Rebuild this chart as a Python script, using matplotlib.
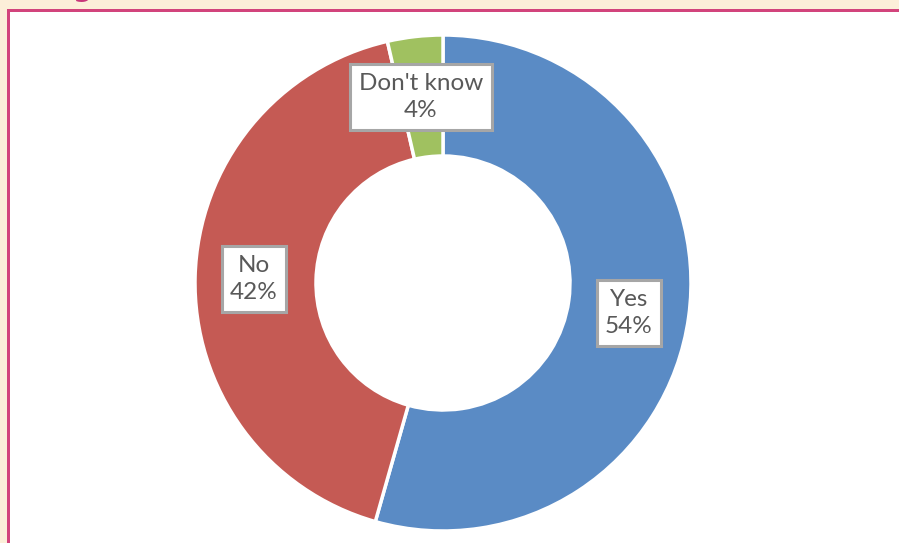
import matplotlib
matplotlib.use("Agg")
import matplotlib.pyplot as plt
from matplotlib.patches import Rectangle

categories = ["Yes", "No", "Don't know"]
values = [54.4, 42.0, 3.6]
pct_labels = ["54%", "42%", "4%"]
colors = ["#5A8BC5", "#C55A54", "#A0C160"]

W, H = 899, 543
fig = plt.figure(figsize=(W / 100, H / 100), dpi=100)
fig.patch.set_facecolor("white")

ax = fig.add_axes([0, 0, 1, 1])
ax.set_xlim(0, W)
ax.set_ylim(0, H)
ax.axis("off")

cx, cy = 443, H - 283
R = 248
width = 121

wedges, _ = ax.pie(values, colors=colors, startangle=90, counterclock=False,
                   center=(cx, cy), radius=R,
                   wedgeprops=dict(width=width, edgecolor="white", linewidth=2.5))
ax.set_xlim(0, W)
ax.set_ylim(0, H)
ax.set_aspect("auto")

label_pos = [(629, H - 313), (254, H - 279), (421, H - 97)]
for cat, pl, (lx, ly) in zip(categories, pct_labels, label_pos):
    ax.text(lx, ly, f"{cat}\n{pl}", ha="center", va="center",
            fontsize=17.5, color="#595959", family="Lato", linespacing=1.4,
            bbox=dict(boxstyle="square,pad=0.35", facecolor="white",
                      edgecolor="#A6A6A6", linewidth=2.2))

# page decoration: cream margins and pink frame lines
fig.patches.append(Rectangle((0, (H - 9) / H), 1, 9 / H, transform=fig.transFigure,
                             facecolor="#FCEFD9", edgecolor="none", zorder=5))
fig.patches.append(Rectangle((0, 0), 7 / W, 1, transform=fig.transFigure,
                             facecolor="#FCEFD9", edgecolor="none", zorder=5))
fig.patches.append(Rectangle((7 / W, (H - 12) / H), 1, 3 / H, transform=fig.transFigure,
                             facecolor="#D2447C", edgecolor="none", zorder=6))
fig.patches.append(Rectangle((7 / W, 0), 3 / W, (H - 9) / H, transform=fig.transFigure,
                             facecolor="#D2447C", edgecolor="none", zorder=6))

fig.text(73 / W, (H + 4) / H, "g", fontsize=20, color="#C8367A", fontweight="bold",
         va="baseline", ha="left", zorder=7)

fig.savefig("out.png", dpi=100, facecolor="white")
